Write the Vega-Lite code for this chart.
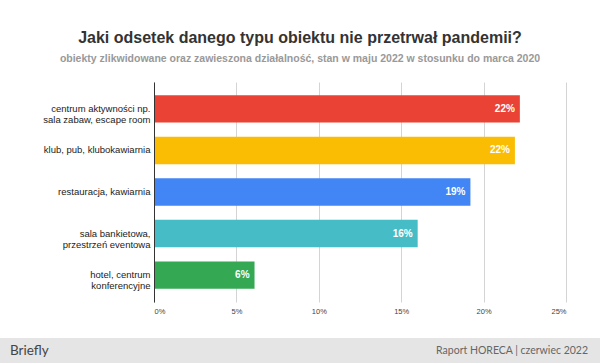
{
  "$schema": "https://vega.github.io/schema/vega-lite/v6.json",
  "background": "white",
  "padding": {"left": 0, "right": 0, "top": 29, "bottom": 0},
  "bounds": "flush",
  "spacing": 36,
  "title": {
    "text": "Jaki odsetek danego typu obiektu nie przetrwał pandemii?",
    "subtitle": "obiekty zlikwidowane oraz zawieszona działalność, stan w maju 2022 w stosunku do marca 2020",
    "anchor": "middle",
    "font": "Liberation Sans",
    "fontSize": 16,
    "fontWeight": "bold",
    "color": "#333333",
    "subtitleFont": "Liberation Sans",
    "subtitleFontSize": 10.5,
    "subtitleFontWeight": "bold",
    "subtitleColor": "#999999",
    "subtitlePadding": 8,
    "offset": 18
  },
  "config": {"view": {"stroke": null}},
  "vconcat": [
    {
      "width": 600,
      "height": 220,
      "data": {
        "values": [
          {"category": "centrum aktywności np.|sala zabaw, escape room", "value": 0.222},
          {"category": "klub, pub, klubokawiarnia", "value": 0.219},
          {"category": "restauracja, kawiarnia", "value": 0.192},
          {"category": "sala bankietowa,|przestrzeń eventowa", "value": 0.160},
          {"category": "hotel, centrum|konferencyjne", "value": 0.061}
        ]
      },
      "encoding": {
        "y": {
          "field": "category",
          "type": "nominal",
          "sort": null,
          "scale": {"paddingInner": 0.342, "paddingOuter": 0.32},
          "axis": {
            "title": null,
            "offset": -154,
            "zindex": 1,
            "domainColor": "#333333",
            "domainWidth": 1,
            "ticks": false,
            "grid": false,
            "labelPadding": 4,
            "labelFont": "Liberation Sans",
            "labelFontSize": 9.5,
            "labelColor": "#222222",
            "labelLineHeight": 11,
            "labelLimit": 200,
            "labelExpr": "split(datum.label, '|')"
          }
        },
        "x": {
          "field": "value",
          "type": "quantitative",
          "scale": {"domain": [0, 0.25], "range": [154, 566]},
          "axis": {
            "title": null,
            "values": [0, 0.05, 0.1, 0.15, 0.2, 0.25],
            "format": ".0%",
            "grid": true,
            "gridColor": "#d4d4d4",
            "domain": false,
            "ticks": false,
            "labelFont": "Liberation Sans",
            "labelFontSize": 7.5,
            "labelColor": "#444444",
            "labelPadding": 5
          }
        }
      },
      "layer": [
        {
          "mark": {"type": "bar"},
          "encoding": {
            "color": {
              "field": "category",
              "type": "nominal",
              "scale": {
                "domain": [
                  "centrum aktywności np.|sala zabaw, escape room",
                  "klub, pub, klubokawiarnia",
                  "restauracja, kawiarnia",
                  "sala bankietowa,|przestrzeń eventowa",
                  "hotel, centrum|konferencyjne"
                ],
                "range": ["#EA4335", "#FBBC04", "#4285F4", "#46BDC6", "#34A853"]
              },
              "legend": null
            }
          }
        },
        {
          "mark": {
            "type": "text",
            "align": "right",
            "baseline": "middle",
            "dx": -5,
            "color": "white",
            "font": "Liberation Sans",
            "fontSize": 10,
            "fontWeight": "bold"
          },
          "encoding": {"text": {"field": "value", "type": "quantitative", "format": ".0%"}}
        }
      ]
    },
    {
      "width": 600,
      "height": 26,
      "view": {"fill": "#e5e5e5", "stroke": null},
      "data": {
        "values": [
          {"text": "Briefly", "pos": 0, "side": "left"},
          {"text": "Raport HORECA | czerwiec 2022", "pos": 1, "side": "right"}
        ]
      },
      "encoding": {
        "x": {"field": "pos", "type": "quantitative", "scale": {"domain": [0, 1]}, "axis": null},
        "text": {"field": "text"}
      },
      "layer": [
        {
          "transform": [{"filter": "datum.side == 'left'"}],
          "mark": {"type": "text", "align": "left", "baseline": "middle", "dx": 10, "font": "Lato", "fontSize": 13.5, "fontWeight": "normal", "color": "#444444"}
        },
        {
          "transform": [{"filter": "datum.side == 'right'"}],
          "mark": {"type": "text", "align": "right", "baseline": "middle", "dx": -12, "font": "Lato", "fontSize": 10.5, "color": "#666666"}
        }
      ]
    }
  ]
}
